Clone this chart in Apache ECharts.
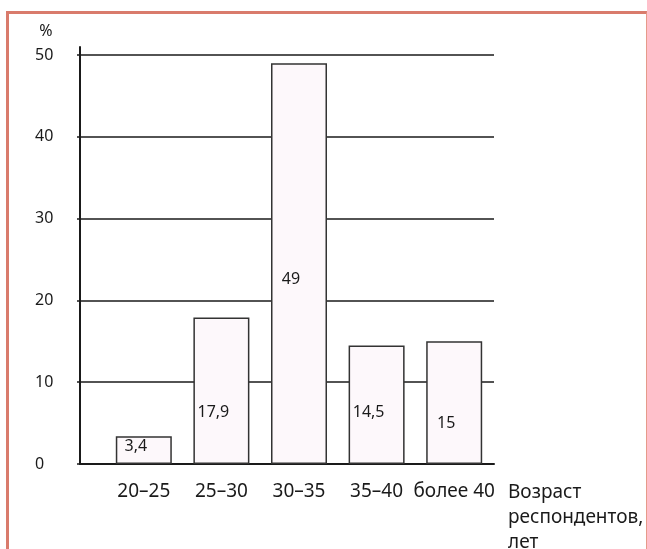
<!DOCTYPE html>
<html>
<head>
<meta charset="utf-8">
<script src="https://cdn.jsdelivr.net/npm/echarts@6/dist/echarts.min.js"></script>
<style>
  html, body { margin: 0; padding: 0; background: #fff; }
  #frame { position: absolute; left: 6px; top: 11px; width: 641px; height: 560px; box-sizing: border-box;
           border-left: 3px solid #d97b6c; border-top: 3px solid #d97b6c; border-right: 1px solid #e69a8a; }
  #chart { position: absolute; left: 0; top: 0; width: 647px; height: 549px; }
</style>
</head>
<body>
<div id="frame"></div>
<div id="chart"></div>
<script>
// Age groups of respondents and their shares, %
const categories = ['20–25', '25–30', '30–35', '35–40', 'более 40'];
const shares = [3.4, 17.9, 49, 14.5, 15];
const shareLabels = ['3,4', '17,9', '49', '14,5', '15'];
const yTicks = [0, 10, 20, 30, 40, 50];

const FONT = 'Noto Sans';
const INK = '#1a1a1a';
const FS = 16;       // numbers
const FS_CAT = 19;   // category labels and axis caption

// lift of each value label above the baseline, px
const labelLift = [10, 44, 177, 44, 33];

const chart = echarts.init(document.getElementById('chart'), null, { renderer: 'canvas' });

const gridBase = { right: 153, bottom: 85, outerBoundsMode: 'none', containLabel: false };

chart.setOption({
  animation: false,
  textStyle: { fontFamily: FONT },
  grid: [
    // vertical axis line, a little taller than the plot
    Object.assign({}, gridBase, { left: 80, top: 47 }),
    // value scale, gridlines, baseline
    Object.assign({}, gridBase, { left: 80, top: 55 }),
    // bars and category labels
    Object.assign({}, gridBase, { left: 105, right: 154, top: 55 })
  ],
  xAxis: [
    { gridIndex: 0, type: 'category', data: categories, show: false },
    {
      gridIndex: 1, type: 'category', data: categories,
      axisLine: { show: true, lineStyle: { color: INK, width: 2 } },
      axisTick: { show: false }, axisLabel: { show: false }, splitLine: { show: false }
    },
    {
      gridIndex: 2, type: 'category', data: categories,
      axisLine: { show: false }, axisTick: { show: false },
      axisLabel: { color: INK, fontSize: FS_CAT, margin: 18, interval: 0, fontFamily: FONT },
      name: 'Возраст\nреспондентов,\nлет',
      nameLocation: 'end', nameGap: 15,
      nameTextStyle: {
        color: INK, fontSize: FS_CAT, fontFamily: FONT, align: 'left',
        verticalAlign: 'top', lineHeight: 25, padding: [16, 0, 0, 0]
      }
    }
  ],
  yAxis: [
    {
      gridIndex: 0, type: 'value', min: 0, max: 1,
      axisLine: { show: true, lineStyle: { color: INK, width: 2 } },
      axisTick: { show: false }, axisLabel: { show: false }, splitLine: { show: false }
    },
    {
      gridIndex: 1, type: 'value', min: yTicks[0], max: yTicks[yTicks.length - 1], interval: 10,
      axisLine: { show: false },
      axisTick: { show: true, length: 3, lineStyle: { color: INK, width: 1.5 } },
      axisLabel: { color: INK, fontSize: FS, align: 'left', margin: 45, fontFamily: FONT },
      splitLine: { show: true, lineStyle: { color: INK, width: 1.5 } },
      name: '%', nameLocation: 'end', nameGap: 16,
      nameTextStyle: { color: INK, fontSize: FS, fontFamily: FONT, align: 'center', padding: [0, 68, 0, 0] }
    },
    {
      gridIndex: 2, type: 'value', min: yTicks[0], max: yTicks[yTicks.length - 1], interval: 10,
      show: false
    }
  ],
  series: [{
    type: 'bar',
    xAxisIndex: 2, yAxisIndex: 2,
    data: shares.map((v, i) => ({
      value: v,
      label: { distance: labelLift[i] }
    })),
    barWidth: 56,
    itemStyle: { color: '#fdf8fb', borderColor: '#333', borderWidth: 1.5 },
    label: {
      show: true, position: 'insideBottom', offset: [-8, 0],
      color: INK, fontSize: FS, fontFamily: FONT,
      formatter: p => shareLabels[p.dataIndex]
    }
  }]
});
</script>
</body>
</html>
